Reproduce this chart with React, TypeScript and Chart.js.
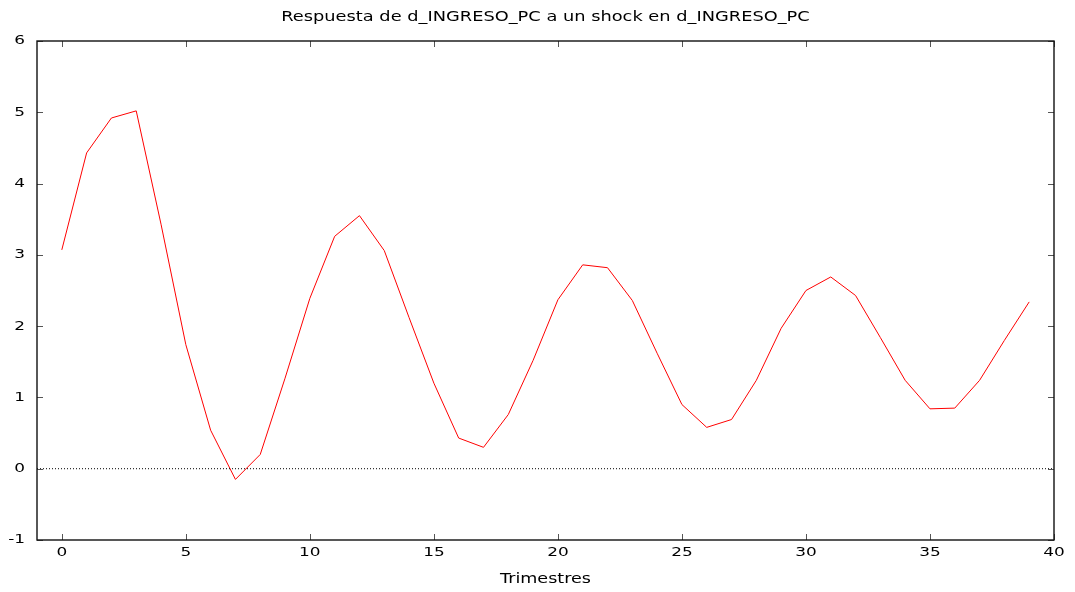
import React, { useEffect, useRef } from 'react';
import { Chart, registerables } from 'chart.js';

Chart.register(...registerables);

const titulo = 'Respuesta de d_INGRESO_PC a un shock en d_INGRESO_PC';
const tituloEjeX = 'Trimestres';

const trimestres = [0, 1, 2, 3, 4, 5, 6, 7, 8, 9, 10, 11, 12, 13, 14, 15, 16, 17, 18, 19, 20, 21, 22, 23, 24, 25, 26, 27, 28, 29, 30, 31, 32, 33, 34, 35, 36, 37, 38, 39];
const respuesta = [3.07, 4.43, 4.92, 5.02, 3.43, 1.74, 0.54, -0.15, 0.2, 1.27, 2.39, 3.26, 3.55, 3.06, 2.12, 1.2, 0.43, 0.3, 0.76, 1.52, 2.37, 2.86, 2.82, 2.36, 1.62, 0.9, 0.58, 0.69, 1.24, 1.97, 2.5, 2.69, 2.43, 1.84, 1.24, 0.84, 0.85, 1.24, 1.8, 2.34];

const xMin = -1;
const xMax = 40;
const xStep = 5;
const yMin = -1;
const yMax = 6;
const yStep = 1;
const lineaCeroX = [xMin, xMax];
const lineaCeroY = [0, 0];

const W = 1075;
const H = 592;
const STRETCH = 1.3;
const FONT = '"DejaVu Sans", sans-serif';

const frameAndTicks = {
  id: 'frameAndTicks',
  afterDatasetsDraw(chart: any) {
    const { ctx, chartArea } = chart;
    const { left, top, right, bottom } = chartArea;
    const xs = chart.scales.x;
    const ys = chart.scales.y;
    const L = 6;
    ctx.save();
    ctx.strokeStyle = '#555';
    ctx.lineWidth = 1;
    ctx.beginPath();
    for (const t of xs.ticks) {
      const px = Math.round(xs.getPixelForValue(t.value)) + 0.5;
      ctx.moveTo(px, bottom);
      ctx.lineTo(px, bottom - L);
      ctx.moveTo(px, top);
      ctx.lineTo(px, top + L);
    }
    for (const t of ys.ticks) {
      const py = Math.round(ys.getPixelForValue(t.value)) + 0.5;
      ctx.moveTo(left, py);
      ctx.lineTo(left + L, py);
      ctx.moveTo(right, py);
      ctx.lineTo(right - L, py);
    }
    ctx.stroke();
    ctx.strokeStyle = '#111';
    ctx.lineWidth = 1.4;
    ctx.strokeRect(left, top, right - left, bottom - top);
    ctx.restore();
  },
};

export default function App() {
  const ref = useRef<HTMLCanvasElement | null>(null);

  useEffect(() => {
    const canvas = ref.current;
    if (!canvas) return;
    const ctx = canvas.getContext('2d') as CanvasRenderingContext2D;
    const orig = ctx.fillText.bind(ctx);
    (ctx as any).fillText = (text: string, x: number, y: number, maxWidth?: number) => {
      ctx.save();
      ctx.translate(x, y);
      ctx.scale(STRETCH, 1);
      if (maxWidth === undefined) orig(text, 0, 0);
      else orig(text, 0, 0, maxWidth / STRETCH);
      ctx.restore();
    };

    const chart = new Chart(ctx, {
      type: 'line',
      data: {
        datasets: [
          {
            data: lineaCeroX.map((x, i) => ({ x, y: lineaCeroY[i] })),
            borderColor: '#000',
            borderWidth: 1,
            borderDash: [1, 2],
            pointRadius: 0,
            fill: false,
          },
          {
            data: trimestres.map((x, i) => ({ x, y: respuesta[i] })),
            borderColor: '#ff0000',
            borderWidth: 1,
            pointRadius: 0,
            fill: false,
            tension: 0,
          },
        ],
      },
      options: {
        animation: false,
        responsive: false,
        maintainAspectRatio: false,
        layout: { padding: { left: 0, right: 21, top: 0, bottom: 0 } },
        plugins: {
          legend: { display: false },
          tooltip: { enabled: false },
          title: { display: false },
        },
        scales: {
          x: {
            type: 'linear',
            min: xMin,
            max: xMax,
            grid: { display: false, drawTicks: false },
            border: { display: false },
            ticks: {
              stepSize: xStep,
              includeBounds: false,
              color: '#000',
              padding: 5,
              maxRotation: 0,
              font: { family: FONT, size: 13 },
            },
            title: {
              display: true,
              text: tituloEjeX,
              color: '#000',
              font: { family: FONT, size: 13.5, lineHeight: 1.2 },
              padding: { top: 0, bottom: 4 },
            },
            afterFit(scale: any) {
              scale.height = 52;
            },
          },
          xTitulo: {
            type: 'linear',
            position: 'top',
            min: xMin,
            max: xMax,
            grid: { display: false, drawTicks: false },
            border: { display: false },
            ticks: { display: false },
            title: {
              display: true,
              text: titulo,
              color: '#000',
              font: { family: FONT, size: 13.7, lineHeight: 1.2 },
              padding: { top: 9.5, bottom: 0 },
            },
            afterFit(scale: any) {
              scale.height = 41;
            },
          },
          y: {
            type: 'linear',
            min: yMin,
            max: yMax,
            grid: { display: false, drawTicks: false },
            border: { display: false },
            ticks: {
              stepSize: yStep,
              color: '#000',
              padding: 12,
              font: { family: FONT, size: 13 },
            },
            afterFit(scale: any) {
              scale.width = 37;
            },
          },
        },
      },
      plugins: [frameAndTicks],
    });

    return () => {
      chart.destroy();
    };
  }, []);

  return (
    <div style={{ position: 'fixed', left: 0, top: 0, width: W, height: H, background: '#fff' }}>
      <canvas ref={ref} width={W} height={H} />
    </div>
  );
}
